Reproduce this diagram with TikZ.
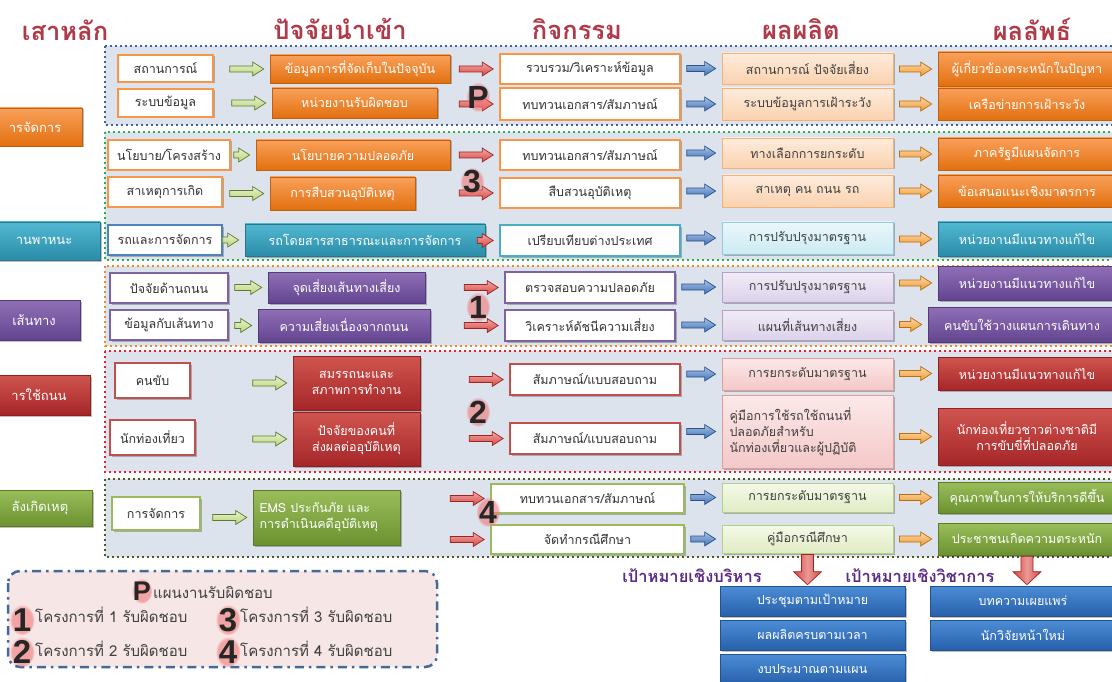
\documentclass[tikz,border=0pt]{standalone}
\usepackage{fontspec}
\setmainfont[Script=Thai]{Loma}
\newfontfamily\numfont{Liberation Sans}
\usetikzlibrary{calc,shadows,fadings}

% palette
\definecolor{hdr}{HTML}{B03A48}
\definecolor{grpfill}{HTML}{DDE3ED}
\definecolor{oA}{HTML}{F9A05A}\definecolor{oB}{HTML}{E2700F}\definecolor{oWb}{HTML}{F79646}
\definecolor{oLA}{HTML}{FDECDD}\definecolor{oLB}{HTML}{FBD2AE}\definecolor{oLd}{HTML}{F4B27A}
\definecolor{tA}{HTML}{52B8D2}\definecolor{tB}{HTML}{2A8CA8}\definecolor{tWb}{HTML}{4BACC6}\definecolor{bWb}{HTML}{4F81BD}
\definecolor{tLA}{HTML}{EAF7FB}\definecolor{tLB}{HTML}{CDEBF3}\definecolor{tLd}{HTML}{8FCBDC}
\definecolor{pA}{HTML}{8F70B6}\definecolor{pB}{HTML}{634490}\definecolor{pWb}{HTML}{7F63A1}
\definecolor{pLA}{HTML}{F1ECF7}\definecolor{pLB}{HTML}{DCD2EA}\definecolor{pLd}{HTML}{B3A2C7}
\definecolor{rA}{HTML}{D0554F}\definecolor{rB}{HTML}{A62628}\definecolor{rWb}{HTML}{C0504D}
\definecolor{rLA}{HTML}{FCE9E9}\definecolor{rLB}{HTML}{F4C8C8}\definecolor{rLd}{HTML}{E39C9C}
\definecolor{gA}{HTML}{99BE5A}\definecolor{gB}{HTML}{6C9130}\definecolor{gWb}{HTML}{9BBB59}
\definecolor{gLA}{HTML}{F4F9E8}\definecolor{gLB}{HTML}{E0ECC4}\definecolor{gLd}{HTML}{B7CF85}
\definecolor{uA}{HTML}{4C8DD6}\definecolor{uB}{HTML}{2860AB}
\definecolor{frB}{HTML}{3C62A5}\definecolor{frG}{HTML}{27B34B}\definecolor{frO}{HTML}{F08A24}
\definecolor{frR}{HTML}{E8202A}\definecolor{frK}{HTML}{4A5A23}
\definecolor{aGf}{HTML}{B9D77A}\definecolor{aGd}{HTML}{5F7A2C}
\definecolor{aRf}{HTML}{D9453F}\definecolor{aRd}{HTML}{9E2424}
\definecolor{aBf}{HTML}{3F74BC}\definecolor{aBd}{HTML}{2A518A}
\definecolor{aOf}{HTML}{F29B2E}\definecolor{aOd}{HTML}{B86E14}
\definecolor{goal}{HTML}{5A2C86}
\definecolor{lgfill}{HTML}{F7E6E6}\definecolor{lgline}{HTML}{44699B}
\definecolor{halo}{HTML}{F07878}

\tikzset{
  txt/.style={font=\fontsize{12.5}{16}\selectfont, align=center, inner sep=2pt},
  shd/.style={drop shadow={shadow xshift=1.5pt, shadow yshift=-1.5pt, opacity=0.25, fill=black}},
  wbox/.style={txt, draw=#1, line width=1.6pt, fill=white, text=black!80, shd},
  fbox/.style 2 args={txt, draw=#2!85!black, line width=0.6pt, top color=#1, bottom color=#2, text=white, shd},
  lbox/.style n args={3}{txt, draw=#3, line width=0.8pt, top color=#1, bottom color=#2, text=black!75, shd},
  oW/.style={wbox=oWb}, oF/.style={fbox={oA}{oB}}, oL/.style={lbox={oLA}{oLB}{oLd}},
  tW/.style={wbox=tWb}, tF/.style={fbox={tA}{tB}}, tL/.style={lbox={tLA}{tLB}{tLd}},
  pW/.style={wbox=pWb}, pF/.style={fbox={pA}{pB}}, pL/.style={lbox={pLA}{pLB}{pLd}},
  rW/.style={wbox=rWb}, rF/.style={fbox={rA}{rB}}, rL/.style={lbox={rLA}{rLB}{rLd}},
  gW/.style={wbox=gWb}, gF/.style={fbox={gA}{gB}}, gL/.style={lbox={gLA}{gLB}{gLd}},
  uF/.style={fbox={uA}{uB}},
  tab/.style={fbox={#1A}{#1B}, font=\fontsize{13}{15}\selectfont},
  grp/.style={draw=#1, line width=2.4pt, dash pattern=on 2.4pt off 2.6pt, fill=grpfill},
  hd/.style={font=\fontsize{25.5}{28}\selectfont\bfseries, inner sep=0pt, text=hdr},
  gArr/.style={draw=aGd, line width=0.7pt, top color=aGf!35!white, bottom color=aGf},
  rArr/.style={draw=aRd, line width=0.7pt, top color=aRf!45!white, bottom color=aRf},
  bArr/.style={draw=aBd, line width=0.7pt, top color=aBf!45!white, bottom color=aBf},
  oArr/.style={draw=aOd, line width=0.7pt, top color=aOf!40!white, bottom color=aOf},
  lgtext/.style={font=\fontsize{15}{17}\selectfont, text=black!75, inner sep=0pt, anchor=west},
  goaltext/.style={font=\fontsize{16.5}{18}\selectfont\bfseries, text=goal},
}

% box given by its corners: name, style, x1, y1, x2, y2, text
\newcommand\bx[7]{\node[#2, minimum width={#5-#3}, minimum height={#6-#4}] (#1) at ({(#3+#5)/2},{(#4+#6)/2}) {#7};}

% horizontal block arrow pointing at the target box
\newcommand\blkarrow[3]{%
  \path[#1] let \p1=(#2.east), \p2=(#3.west), \n1={max(16,min(34,\x2-\x1-12))} in
    ({\x2-6pt-\n1*1pt},{\y2+3pt}) -- ({\x2-17pt},{\y2+3pt}) -- ({\x2-17pt},{\y2+7pt})
    -- ({\x2-6pt},{\y2}) -- ({\x2-17pt},{\y2-7pt}) -- ({\x2-17pt},{\y2-3pt})
    -- ({\x2-6pt-\n1*1pt},{\y2-3pt}) -- cycle;}

% downward block arrow from one box to another
\newcommand\dnarrow[2]{%
  \path[draw=aRd, line width=0.7pt, left color=aRf, right color=aRf, middle color=aRf!55!white]
    let \p1=(#1.south), \p2=(#2.north) in
    ({\x1-6pt},{\y1-1pt}) -- ({\x1+6pt},{\y1-1pt}) -- ({\x1+6pt},{\y2+14pt}) -- ({\x1+14pt},{\y2+14pt})
    -- ({\x1},{\y2+1pt}) -- ({\x1-14pt},{\y2+14pt}) -- ({\x1-6pt},{\y2+14pt}) -- cycle;}

% large numeral on a soft pink glow
\newcommand\glow[5]{%
  \fill[halo, opacity=0.6, path fading=circle with fuzzy edge 20 percent] (#2,#3) ellipse (#5*0.38 and #5*0.47);
  \node[font=\numfont\bfseries\fontsize{#5}{#5}\selectfont, text=black!85, inner sep=0pt] (#1) at (#2,#3) {#4};}

\begin{document}
\begin{tikzpicture}[x=1pt,y=-1pt]
\useasboundingbox (0,0) rectangle (1112,682);
\fill[white] (0,0) rectangle (1112,682);

% column headings
\node[hd] (hA) at (65,30) {เสาหลัก};
\node[hd] (hB) at (340,29) {ปัจจัยนำเข้า};
\node[hd] (hC) at (577,29) {กิจกรรม};
\node[hd] (hD) at (801,29) {ผลผลิต};
\node[hd] (hE) at (1032,29) {ผลลัพธ์};

% dotted group frames
\draw[grp=frB] (105,46) rectangle (1122,125);
\draw[grp=frG] (105,132) rectangle (1122,260);
\draw[grp=frO] (105,266) rectangle (1122,346);
\draw[grp=frR] (105,351) rectangle (1122,472);
\draw[grp=frK] (105,479) rectangle (1122,557);

% pillar tabs on the left edge
\bx{t1}{tab=o}{-12}{108}{82}{146}{ารจัดการ}
\bx{t2}{tab=t}{-12}{222}{100}{260}{านพาหนะ}
\bx{t3}{tab=p}{-12}{300}{80}{340}{เส้นทาง}
\bx{t4}{tab=r}{-12}{375}{90}{415}{ารใช้ถนน}
\bx{t5}{tab=g}{-12}{490}{92}{526}{ลังเกิดเหตุ}

% group P
\bx{a1}{oW}{118}{55}{213}{82}{สถานการณ์}
\bx{b1}{oF}{270}{55}{450}{83}{ข้อมูลการที่จัดเก็บในปัจจุบัน}
\bx{c1}{oW}{500}{54}{680}{84}{รวบรวม/วิเคราะห์ข้อมูล}
\bx{d1}{oL}{722}{53}{893}{84}{สถานการณ์ ปัจจัยเสี่ยง}
\bx{e1}{oF}{938}{52}{1116}{86}{ผู้เกี่ยวข้องตระหนักในปัญหา}
\bx{a2}{oW}{118}{89}{213}{117}{ระบบข้อมูล}
\bx{b2}{oF}{272}{88}{437}{118}{หน่วยงานรับผิดชอบ}
\bx{c2}{oW}{500}{88}{680}{120}{ทบทวนเอกสาร/สัมภาษณ์}
\bx{d2}{oL}{722}{88}{893}{120}{ระบบข้อมูลการเฝ้าระวัง}
\bx{e2}{oF}{938}{88}{1116}{120}{เครือข่ายการเฝ้าระวัง}

% group 3
\bx{a3}{oW}{108}{140}{230}{170}{นโยบาย/โครงสร้าง}
\bx{b3}{oF}{256}{140}{450}{170}{นโยบายความปลอดภัย}
\bx{c3}{oW}{500}{140}{680}{170}{ทบทวนเอกสาร/สัมภาษณ์}
\bx{d3}{oL}{722}{138}{893}{168}{ทางเลือกการยกระดับ}
\bx{e3}{oF}{938}{138}{1116}{170}{ภาครัฐมีแผนจัดการ}
\bx{a4}{oW}{108}{177}{222}{207}{สาเหตุการเกิด}
\bx{b4}{oF}{270}{177}{415}{210}{การสืบสวนอุบัติเหตุ}
\bx{c4}{oW}{500}{178}{680}{208}{สืบสวนอุบัติเหตุ}
\bx{d4}{oL}{722}{175}{893}{207}{สาเหตุ คน ถนน รถ}
\bx{e4}{oF}{938}{175}{1116}{207}{ข้อเสนอแนะเชิงมาตรการ}
\bx{a5}{wbox=bWb}{108}{225}{222}{255}{รถและการจัดการ}
\bx{b5}{tF}{245}{224}{485}{256}{รถโดยสารสาธารณะและการจัดการ}
\bx{c5}{tW}{500}{225}{680}{256}{เปรียบเทียบต่างประเทศ}
\bx{d5}{tL}{722}{222}{893}{254}{การปรับปรุงมาตรฐาน}
\bx{e5}{tF}{938}{222}{1116}{256}{หน่วยงานมีแนวทางแก้ไข}

% group 1
\bx{a6}{pW}{110}{273}{228}{303}{ปัจจัยด้านถนน}
\bx{b6}{pF}{268}{272}{425}{303}{จุดเสี่ยงเส้นทางเสี่ยง}
\bx{c6}{pW}{505}{272}{675}{303}{ตรวจสอบความปลอดภัย}
\bx{d6}{pL}{722}{272}{893}{302}{การปรับปรุงมาตรฐาน}
\bx{e6}{pF}{938}{266}{1116}{300}{หน่วยงานมีแนวทางแก้ไข}
\bx{a7}{pW}{110}{310}{228}{340}{ข้อมูลกับเส้นทาง}
\bx{b7}{pF}{258}{309}{430}{342}{ความเสี่ยงเนื่องจากถนน}
\bx{c7}{pW}{505}{310}{675}{341}{วิเคราะห์ดัชนีความเสี่ยง}
\bx{d7}{pL}{722}{310}{893}{340}{แผนที่เส้นทางเสี่ยง}
\bx{e7}{pF}{928}{307}{1116}{342}{คนขับใช้วางแผนการเดินทาง}

% group 2
\bx{a8}{rW}{115}{363}{190}{398}{คนขับ}
\bx{b8}{rF}{293}{356}{420}{410}{สมรรถนะและ\\สภาพการทำงาน}
\bx{c8}{rW}{510}{364}{680}{395}{สัมภาษณ์/แบบสอบถาม}
\bx{d8}{rL}{722}{358}{893}{390}{การยกระดับมาตรฐาน}
\bx{e8}{rF}{938}{357}{1116}{390}{หน่วยงานมีแนวทางแก้ไข}
\bx{a9}{rW}{110}{420}{195}{455}{นักท่องเที่ยว}
\bx{b9}{rF}{293}{412}{420}{466}{ปัจจัยของคนที่\\ส่งผลต่ออุบัติเหตุ}
\bx{c9}{rW}{510}{423}{680}{454}{สัมภาษณ์/แบบสอบถาม}
\bx{d9}{rL, align=left, text width=156pt}{722}{395}{893}{468}{คู่มือการใช้รถใช้ถนนที่\\ปลอดภัยสำหรับ\\นักท่องเที่ยวและผู้ปฏิบัติ}
\bx{e9}{rF}{938}{408}{1116}{465}{นักท่องเที่ยวชาวต่างชาติมี\\การขับขี่ที่ปลอดภัย}

% group 4
\bx{a10}{gW}{112}{497}{200}{530}{การจัดการ}
\bx{b10}{gF, align=left, text width=134pt}{253}{490}{400}{545}{EMS ประกันภัย และ\\การดำเนินคดีอุบัติเหตุ}
\bx{c10}{gW}{491}{484}{684}{513}{ทบทวนเอกสาร/สัมภาษณ์}
\bx{c11}{gW}{491}{525}{684}{554}{จัดทำกรณีศึกษา}
\bx{d10}{gL}{722}{483}{893}{512}{การยกระดับมาตรฐาน}
\bx{d11}{gL}{722}{525}{893}{553}{คู่มือกรณีศึกษา}
\bx{e10}{gF}{938}{482}{1116}{513}{คุณภาพในการให้บริการดีขึ้น}
\bx{e11}{gF}{938}{523}{1116}{555}{ประชาชนเกิดความตระหนัก}

% arrows between the columns
\foreach \s/\t in {a1/b1,a2/b2,a3/b3,a4/b4,a5/b5,a6/b6,a7/b7,a8/b8,a9/b9,a10/b10}{\blkarrow{gArr}{\s}{\t}}
\foreach \s/\t in {b1/c1,b2/c2,b3/c3,b4/c4,b5/c5,b6/c6,b7/c7,b8/c8,b9/c9,b10/c10,b10/c11}{\blkarrow{rArr}{\s}{\t}}
\foreach \s/\t in {c1/d1,c2/d2,c3/d3,c4/d4,c5/d5,c6/d6,c7/d7,c8/d8,c9/d9,c10/d10,c11/d11}{\blkarrow{bArr}{\s}{\t}}
\foreach \s/\t in {d1/e1,d2/e2,d3/e3,d4/e4,d5/e5,d6/e6,d7/e7,d8/e8,d9/e9,d10/e10,d11/e11}{\blkarrow{oArr}{\s}{\t}}

% responsibility markers
\glow{mP}{478}{97}{P}{32}
\glow{m3}{472}{182}{3}{32}
\glow{m1}{478}{307}{1}{32}
\glow{m2}{478}{412}{2}{32}
\glow{m4}{488}{512}{4}{32}

% goals
\bx{u1}{uF}{720}{586}{905}{616}{ประชุมตามเป้าหมาย}
\bx{u2}{uF}{720}{620}{905}{650}{ผลผลิตครบตามเวลา}
\bx{u3}{uF}{720}{654}{905}{684}{งบประมาณตามแผน}
\bx{u4}{uF}{930}{586}{1116}{616}{บทความเผยแพร่}
\bx{u5}{uF}{930}{620}{1116}{650}{นักวิจัยหน้าใหม่}
\dnarrow{d11}{u1}
\dnarrow{e11}{u4}
\node[goaltext] (gl1) at (692,576) {เป้าหมายเชิงบริหาร};
\node[goaltext] (gl2) at (920,576) {เป้าหมายเชิงวิชาการ};

% legend
\draw[draw=lgline, fill=lgfill, line width=2.5pt, rounded corners=12pt,
      dash pattern=on 9pt off 5pt on 2.5pt off 5pt] (8,571) rectangle (437,667);
\glow{kP}{142}{591}{P}{27}
\node[lgtext] (kPt) at (153,593) {แผนงานรับผิดชอบ};
\glow{k1}{22}{620}{1}{33}
\node[lgtext] (k1t) at (35,615) {โครงการที่ 1 รับผิดชอบ};
\glow{k3}{228}{620}{3}{33}
\node[lgtext] (k3t) at (240,615) {โครงการที่ 3 รับผิดชอบ};
\glow{k2}{22}{652}{2}{33}
\node[lgtext] (k2t) at (35,649) {โครงการที่ 2 รับผิดชอบ};
\glow{k4}{228}{652}{4}{33}
\node[lgtext] (k4t) at (240,649) {โครงการที่ 4 รับผิดชอบ};
\end{tikzpicture}
\end{document}
